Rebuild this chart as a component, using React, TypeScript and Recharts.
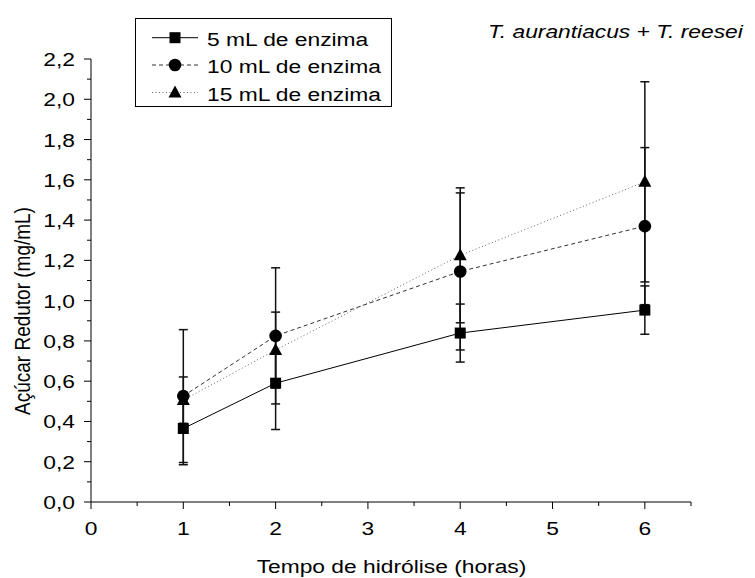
import { LineChart, Line, XAxis, YAxis, ErrorBar } from 'recharts';

// fonts in the original look horizontally stretched, so text is scaled in x
const FONT = '"Liberation Sans", Arial, sans-serif';
const FS = 19;
const SX = 1.2;

const hours = [1, 2, 4, 6];
const sugar5 = [0.365, 0.59, 0.839, 0.953];
const err5 = [0.18, 0.23, 0.144, 0.12];
const sugar10 = [0.526, 0.825, 1.145, 1.37];
const err10 = [0.33, 0.338, 0.39, 0.39];
const sugar15 = [0.506, 0.755, 1.225, 1.59];
const err15 = [0.115, 0.188, 0.335, 0.497];

const seriesNames = ['5 mL de enzima', '10 mL de enzima', '15 mL de enzima'];
const xTicks = [0, 0.5, 1, 1.5, 2, 2.5, 3, 3.5, 4, 4.5, 5, 5.5, 6, 6.5];
const yTicks = [
  0, 0.1, 0.2, 0.3, 0.4, 0.5, 0.6, 0.7, 0.8, 0.9, 1, 1.1,
  1.2, 1.3, 1.4, 1.5, 1.6, 1.7, 1.8, 1.9, 2, 2.1, 2.2,
];
const title = 'T. aurantiacus + T. reesei';
const xTitle = 'Tempo de hidrólise (horas)';
const yTitle = 'Açúcar Redutor (mg/mL)';

const data = hours.map((h, i) => ({
  h,
  s5: sugar5[i],
  e5: err5[i],
  s10: sugar10[i],
  e10: err10[i],
  s15: sugar15[i],
  e15: err15[i],
}));

type Shape = 'square' | 'circle' | 'triangle';

function Marker({ cx, cy, shape }: { cx: number; cy: number; shape: Shape }) {
  if (cx == null || cy == null) return null;
  if (shape === 'square') {
    return <rect x={cx - 5.5} y={cy - 5.5} width={11} height={11} fill="#000" />;
  }
  if (shape === 'circle') {
    return <circle cx={cx} cy={cy} r={6.3} fill="#000" />;
  }
  return (
    <polygon
      points={`${cx},${cy - 7} ${cx - 6.5},${cy + 5} ${cx + 6.5},${cy + 5}`}
      fill="#000"
    />
  );
}

const series = [
  { key: 's5', err: 'e5', shape: 'square' as Shape, stroke: '#000', dash: undefined },
  { key: 's10', err: 'e10', shape: 'circle' as Shape, stroke: '#333', dash: '4 3' },
  { key: 's15', err: 'e15', shape: 'triangle' as Shape, stroke: '#666', dash: '1 2.5' },
];

function XTick(props: any) {
  const { x, y, payload } = props;
  const v = payload.value;
  const major = Number.isInteger(v);
  return (
    <g>
      <line x1={x} x2={x} y1={y} y2={y + (major ? 7 : 4)} stroke="#000" />
      {major && (
        <text
          transform={`translate(${x},${y + 33}) scale(${SX},1)`}
          textAnchor="middle"
          fontSize={FS}
          fontFamily={FONT}
          fill="#000"
        >
          {v}
        </text>
      )}
    </g>
  );
}

function YTick(props: any) {
  const { x, y, payload } = props;
  const v = payload.value;
  const major = Math.round(v * 10) % 2 === 0;
  return (
    <g>
      <line x1={x} x2={x - (major ? 7 : 4)} y1={y} y2={y} stroke="#000" />
      {major && (
        <text
          transform={`translate(${x - 16},${y + 7}) scale(${SX},1)`}
          textAnchor="end"
          fontSize={FS}
          fontFamily={FONT}
          fill="#000"
        >
          {v.toFixed(1).replace('.', ',')}
        </text>
      )}
    </g>
  );
}

const legendRows = [37.7, 65, 92.5];

function Overlay() {
  return (
    <svg
      width={755}
      height={578}
      style={{ position: 'absolute', left: 0, top: 0, pointerEvents: 'none' }}
      fontFamily={FONT}
      fontSize={FS}
    >
      <text transform={`translate(488,37.5) scale(${SX},1)`} fontStyle="italic">
        {title}
      </text>
      <text transform={`translate(391.5,573) scale(${SX},1)`} textAnchor="middle">
        {xTitle}
      </text>
      <text transform={`translate(29.5,311) scale(${SX},1) rotate(-90)`} textAnchor="middle">
        {yTitle}
      </text>
      <rect x={135.5} y={18.5} width={256} height={88} fill="#fff" stroke="#000" />
      {series.map((s, i) => (
        <g key={s.key}>
          <line
            x1={152}
            x2={198}
            y1={legendRows[i]}
            y2={legendRows[i]}
            stroke={s.stroke}
            strokeDasharray={s.dash}
          />
          <Marker cx={175} cy={legendRows[i]} shape={s.shape} />
          <text transform={`translate(207,${legendRows[i] + 8}) scale(${SX},1)`}>
            {seriesNames[i]}
          </text>
        </g>
      ))}
    </svg>
  );
}

export default function App() {
  return (
    <div
      style={{
        position: 'absolute',
        left: 0,
        top: 0,
        width: 755,
        height: 578,
        background: '#fff',
      }}
    >
      <LineChart
        width={755}
        height={578}
        data={data}
        margin={{ top: 59, right: 64, bottom: 0, left: 0 }}
      >
        <XAxis
          dataKey="h"
          type="number"
          domain={[0, 6.5]}
          ticks={xTicks}
          interval={0}
          height={76}
          tickSize={0}
          tickMargin={0}
          tickLine={false}
          axisLine={{ stroke: '#000' }}
          tick={<XTick />}
        />
        <YAxis
          type="number"
          domain={[0, 2.2]}
          ticks={yTicks}
          interval={0}
          width={91}
          tickSize={0}
          tickMargin={0}
          tickLine={false}
          axisLine={{ stroke: '#000' }}
          tick={<YTick />}
        />
        {series.map((s) => (
          <Line
            key={s.key}
            dataKey={s.key}
            type="linear"
            stroke={s.stroke}
            strokeWidth={1}
            strokeDasharray={s.dash}
            isAnimationActive={false}
            activeDot={false}
            dot={(p: any) => (
              <Marker key={`${s.key}-${p.index}`} cx={p.cx} cy={p.cy} shape={s.shape} />
            )}
          >
            <ErrorBar
              dataKey={s.err}
              width={4.5}
              stroke="#111"
              strokeWidth={1.5}
              isAnimationActive={false}
            />
          </Line>
        ))}
      </LineChart>
      <Overlay />
    </div>
  );
}
